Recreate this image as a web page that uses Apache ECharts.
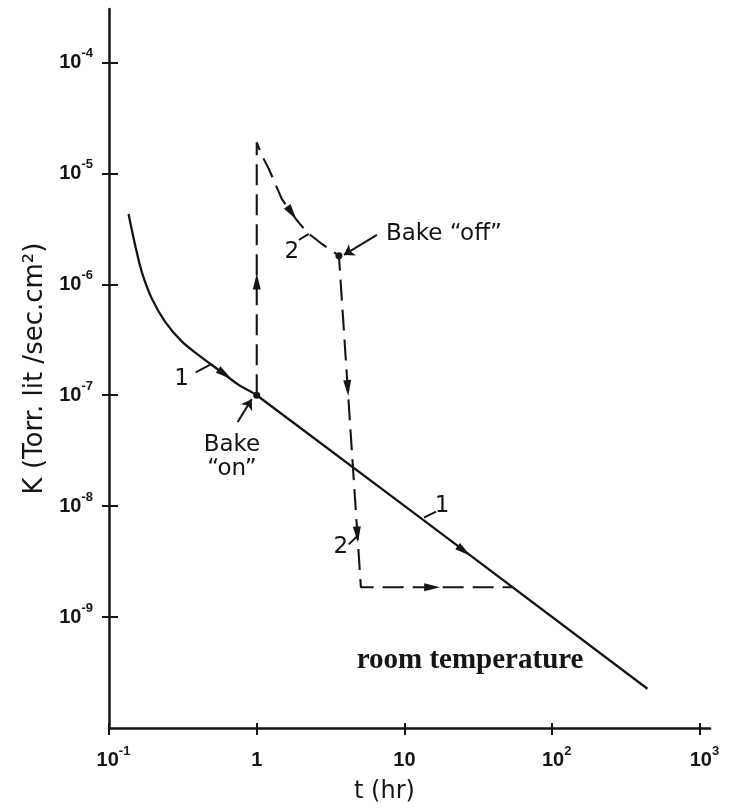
<!DOCTYPE html>
<html><head><meta charset="utf-8">
<script src="https://cdn.jsdelivr.net/npm/echarts@6/dist/echarts.min.js"></script>
<style>html,body{margin:0;padding:0;background:#fff}#c{width:736px;height:809px}</style>
</head><body><div id="c"></div>
<script>
// ---- axis ticks ----
const xTicks = [0.1, 1, 10, 100, 1000];
const yTicks = [1e-9, 1e-8, 1e-7, 1e-6, 1e-5, 1e-4];

// ---- curve 1 : room temperature ----
const curve1T = [0.1356, 0.1506, 0.1668, 0.195, 0.240, 0.312, 0.404, 0.552, 0.755, 1, 441];
const curve1K = [4.31e-6, 2.23e-6, 1.29e-6, 7.43e-7, 4.59e-7, 3.04e-7, 2.30e-7, 1.69e-7, 1.24e-7, 1e-7, 2.26e-10];

// ---- curve 2 : bake on / bake off ----
const curve2T = [1, 1, 1.081, 1.21, 1.48, 1.84, 2.18, 2.76, 3.60, 5.07, 55];
const curve2K = [1e-7, 1.9e-5, 1.46e-5, 1.09e-5, 5.86e-6, 3.88e-6, 2.96e-6, 2.31e-6, 1.81e-6, 1.86e-9, 1.86e-9];

// ---- marked points (Bake on, Bake off) ----
const dotT = [1, 3.60];
const dotK = [1e-7, 1.81e-6];

// ---- direction arrowheads along the curves ----
const arrowT = [0.607, 25.3, 1, 1.727, 4.13, 4.80, 15.4];
const arrowK = [1.55e-7, 3.95e-9, 1.06e-6, 4.4e-6, 1.16e-7, 5.56e-9, 1.86e-9];
const arrowAngle = [-125, -127, 0, -145, -176, -176, -90];

// ---- annotation labels ----
const labelText = ['1', 'Bake\n“on”', '2', 'Bake “off”', '1', '2', 'room temperature'];
const labelT = [0.310, 0.68, 1.727, 18.5, 17.96, 3.71, 27.8];
const labelK = [1.394e-7, 2.78e-8, 1.96e-6, 2.85e-6, 1.01e-8, 4.25e-9, 4.03e-10];

// ---- leader lines ----
const leaderFrom = [[0.386, 1.61e-7], [1.927, 2.51e-6], [13.56, 7.89e-9], [4.20, 4.52e-9]];
const leaderTo   = [[0.488, 1.90e-7], [2.25, 2.85e-6], [16.35, 8.93e-9], [4.84, 5.44e-9]];
const pointerFrom = [[0.743, 5.73e-8], [6.51, 2.79e-6]];
const pointerTo   = [[0.925, 9.22e-8], [3.89, 1.84e-6]];

const INK = '#151515';
const SANS = 'DejaVu Sans';
const TICKF = 'Liberation Sans';

function zip(a, b) { return a.map((v, i) => [v, b[i]]); }
function expLabel(v, pad) {
  const e = Math.round(Math.log10(v));
  if (e === 0) return '{b|1}';
  if (e === 1) return '{b|10}';
  return (pad ? '{w|}' : '') + '{b|10}{s|' + e + '}';
}
const richX = {
  b: { fontFamily: TICKF, fontWeight: 'bold', fontSize: 20, color: INK, lineHeight: 31 },
  s: { fontFamily: TICKF, fontWeight: 'bold', fontSize: 13, color: INK, padding: [0, 0, 18, 0] },
  w: { width: 9 }
};
const richY = {
  b: { fontFamily: TICKF, fontWeight: 'bold', fontSize: 20, color: INK, lineHeight: 31 },
  s: { fontFamily: TICKF, fontWeight: 'bold', fontSize: 13, color: INK, padding: [0, 0, 18, 0] }
};

const xMin = 0.1, xMax = Math.pow(10, 3.068);
const yMin = 1e-10, yMax = Math.pow(10, -3.518);
const axisLine = { show: true, lineStyle: { color: INK, width: 2.5 } };
const tickStyle = { color: INK, width: 2 };

const chart = echarts.init(document.getElementById('c'), null, { renderer: 'canvas' });
chart.setOption({
  animation: false,
  backgroundColor: '#ffffff',
  grid: { left: 109, right: 26, top: 9, bottom: 78 },
  xAxis: [
    {
      type: 'log', logBase: 10, min: xMin, max: xMax,
      axisLine: axisLine,
      axisTick: { show: true, customValues: xTicks, length: 7, lineStyle: tickStyle },
      axisLabel: { customValues: xTicks, formatter: v => expLabel(v, true), rich: richX, margin: 17 },
      splitLine: { show: false }, minorTick: { show: false },
      name: 't (hr)', nameLocation: 'middle', nameGap: 52,
      nameTextStyle: { fontFamily: SANS, fontSize: 24, color: INK, padding: [0, 50, 0, 0] }
    },
    {
      type: 'log', logBase: 10, min: xMin, max: xMax, position: 'top', offset: -722,
      axisLine: { show: false },
      axisTick: { show: true, customValues: xTicks, length: 8, lineStyle: tickStyle },
      axisLabel: { show: false }, splitLine: { show: false }
    }
  ],
  yAxis: [
    {
      type: 'log', logBase: 10, min: yMin, max: yMax,
      axisLine: axisLine,
      axisTick: { show: true, customValues: yTicks, length: 7, lineStyle: tickStyle },
      axisLabel: { customValues: yTicks, formatter: v => expLabel(v, false), rich: richY, margin: 16 },
      splitLine: { show: false }, minorTick: { show: false },
      name: 'K (Torr. lit /sec.cm²)', nameLocation: 'middle', nameGap: 55, nameRotate: 90,
      nameTextStyle: { fontFamily: SANS, fontSize: 26, color: INK }
    },
    {
      type: 'log', logBase: 10, min: yMin, max: yMax, position: 'right', offset: -601,
      axisLine: { show: false },
      axisTick: { show: true, customValues: yTicks, length: 9, lineStyle: tickStyle },
      axisLabel: { show: false }, splitLine: { show: false }
    }
  ],
  series: [
    {
      type: 'line', data: zip(curve1T, curve1K), showSymbol: false, smooth: 0.3,
      lineStyle: { color: INK, width: 2.3 }, z: 3
    },
    {
      type: 'line', data: zip(curve2T, curve2K), showSymbol: false,
      lineStyle: { color: INK, width: 2.1, type: [21, 9] }, z: 3
    },
    {
      type: 'scatter', data: zip(dotT, dotK), symbol: 'circle', symbolSize: 7,
      itemStyle: { color: INK, opacity: 1 }, z: 5
    },
    {
      type: 'scatter', symbol: 'triangle', symbolSize: [8, 16],
      data: arrowT.map((t, i) => ({ value: [t, arrowK[i]], symbolRotate: arrowAngle[i] })),
      itemStyle: { color: INK, opacity: 1 }, z: 5
    },
    {
      type: 'lines', coordinateSystem: 'cartesian2d', symbol: ['none', 'none'],
      data: leaderFrom.map((p, i) => ({ coords: [p, leaderTo[i]] })),
      lineStyle: { color: INK, width: 2, opacity: 1, curveness: 0 }, z: 4
    },
    {
      type: 'lines', coordinateSystem: 'cartesian2d', symbol: ['none', 'arrow'], symbolSize: 10,
      data: pointerFrom.map((p, i) => ({ coords: [p, pointerTo[i]] })),
      lineStyle: { color: INK, width: 2, opacity: 1, curveness: 0 }, z: 4
    },
    {
      type: 'scatter', symbol: 'circle', symbolSize: 1,
      itemStyle: { color: '#ffffff', opacity: 1 },
      data: labelText.map((txt, i) => ({
        value: [labelT[i], labelK[i]],
        label: {
          show: true, position: 'inside', formatter: txt, color: INK, opacity: 1,
          fontFamily: txt === 'room temperature' ? 'Liberation Serif' : SANS,
          fontWeight: txt === 'room temperature' ? 'bold' : 'normal',
          fontSize: txt === 'room temperature' ? 29 : 23,
          lineHeight: 24
        }
      })),
      z: 6
    }
  ]
});
</script>
</body></html>
